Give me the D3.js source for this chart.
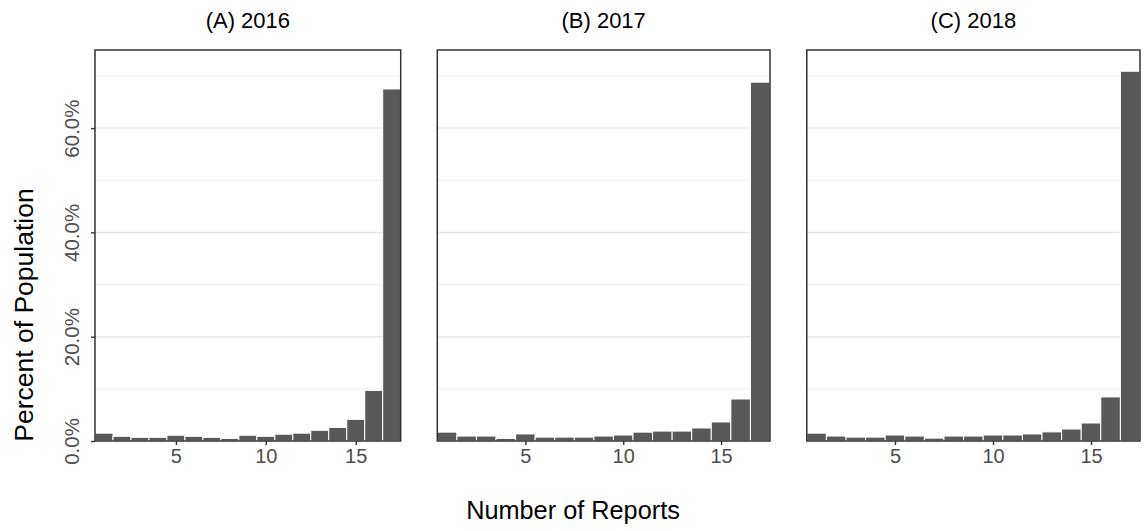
<!DOCTYPE html>
<html>
<head>
<meta charset="utf-8">
<script src="https://cdn.jsdelivr.net/npm/d3@7"></script>
<style>
  html, body { margin: 0; padding: 0; background: #fff; }
  svg { display: block; font-family: "Liberation Sans", Arial, Helvetica, sans-serif; }
</style>
</head>
<body>
<svg id="chart" width="1144" height="531"></svg>
<script>
// Share of the population by number of reports filed, one panel per year
const reports = d3.range(1, 18);
const panelTitles = ["(A) 2016", "(B) 2017", "(C) 2018"];
const pct2016 = [1.5, 0.9, 0.7, 0.7, 1.1, 0.9, 0.7, 0.5, 1.1, 0.9, 1.3, 1.5, 2.05, 2.6, 4.15, 9.7, 67.5];
const pct2017 = [1.7, 0.95, 0.95, 0.5, 1.35, 0.75, 0.75, 0.75, 0.95, 1.15, 1.7, 1.9, 1.9, 2.5, 3.65, 8.05, 68.8];
const pct2018 = [1.5, 0.95, 0.75, 0.75, 1.15, 0.95, 0.55, 0.95, 0.95, 1.15, 1.15, 1.35, 1.75, 2.3, 3.45, 8.45, 70.9];
const xTicks = [5, 10, 15];
const yMajor = [0, 20, 40, 60];
const yMinor = [10, 30, 50, 70];
const xTitle = "Number of Reports";
const yTitle = "Percent of Population";

const seriesList = [pct2016, pct2017, pct2018];

const svg = d3.select("#chart");
const panelTop = 50, panelBottom = 441;
const panels = [
  { x0: 95, x1: 400.7 },
  { x0: 437.3, x1: 770 },
  { x0: 806.8, x1: 1140 }
];

const y = d3.scaleLinear().domain([0, 74.97]).range([panelBottom, panelTop]);
const pctFmt = d => d.toFixed(1) + "%";

panels.forEach((p, i) => {
  const x = d3.scaleLinear().domain([0.5, 17.5]).range([p.x0, p.x1]);
  const g = svg.append("g");

  // grid lines
  g.selectAll("line.minor").data(yMinor).join("line")
    .attr("x1", p.x0).attr("x2", p.x1)
    .attr("y1", d => y(d)).attr("y2", d => y(d))
    .attr("stroke", "#ebebeb").attr("stroke-width", 0.9);
  g.selectAll("line.major").data(yMajor).join("line")
    .attr("x1", p.x0).attr("x2", p.x1)
    .attr("y1", d => y(d)).attr("y2", d => y(d))
    .attr("stroke", "#e8e8e8").attr("stroke-width", 1.5);

  // histogram bars
  const vals = seriesList[i];
  g.selectAll("rect.bar").data(reports).join("rect")
    .attr("x", d => x(d - 0.5))
    .attr("width", d => x(d + 0.5) - x(d - 0.5))
    .attr("y", (d, k) => y(vals[k]))
    .attr("height", (d, k) => y(0) - y(vals[k]))
    .attr("fill", "#595959")
    .attr("stroke", "#ffffff")
    .attr("stroke-width", 1);

  // x axis
  const xAxis = d3.axisBottom(x).tickValues(xTicks).tickSize(4).tickPadding(4);
  const ax = g.append("g").attr("transform", `translate(0,${panelBottom})`).call(xAxis);
  ax.select(".domain").remove();
  ax.selectAll(".tick line").attr("stroke", "#333333").attr("stroke-width", 1.4);
  ax.selectAll(".tick text").attr("fill", "#4d4d4d").attr("font-size", 20)
    .attr("font-family", "Liberation Sans, Arial, sans-serif");

  // y axis on the first panel only
  if (i === 0) {
    const yAxis = d3.axisLeft(y).tickValues(yMajor).tickFormat(pctFmt).tickSize(4);
    const ay = g.append("g").attr("transform", `translate(${p.x0},0)`).call(yAxis);
    ay.select(".domain").remove();
    ay.selectAll(".tick line").attr("stroke", "#333333").attr("stroke-width", 1.4);
    ay.selectAll(".tick text")
      .attr("fill", "#4d4d4d").attr("font-size", 20.5)
      .attr("font-family", "Liberation Sans, Arial, sans-serif")
      .attr("text-anchor", "middle")
      .attr("x", null).attr("dy", null)
      .attr("transform", "translate(-16,0) rotate(-90)");
  }

  // panel border
  g.append("rect")
    .attr("x", p.x0).attr("y", panelTop)
    .attr("width", p.x1 - p.x0).attr("height", panelBottom - panelTop)
    .attr("fill", "none").attr("stroke", "#333333").attr("stroke-width", 1.5);

  // panel title
  svg.append("text")
    .attr("x", (p.x0 + p.x1) / 2).attr("y", 28)
    .attr("text-anchor", "middle").attr("font-size", 22).attr("fill", "#000")
    .text(panelTitles[i]);
});

// axis titles
svg.append("text")
  .attr("x", 573).attr("y", 519)
  .attr("text-anchor", "middle").attr("font-size", 25.3).attr("fill", "#000")
  .text(xTitle);

svg.append("text")
  .attr("transform", "translate(33,315) rotate(-90)")
  .attr("text-anchor", "middle").attr("font-size", 26.5).attr("fill", "#000")
  .text(yTitle);
</script>
</body>
</html>
